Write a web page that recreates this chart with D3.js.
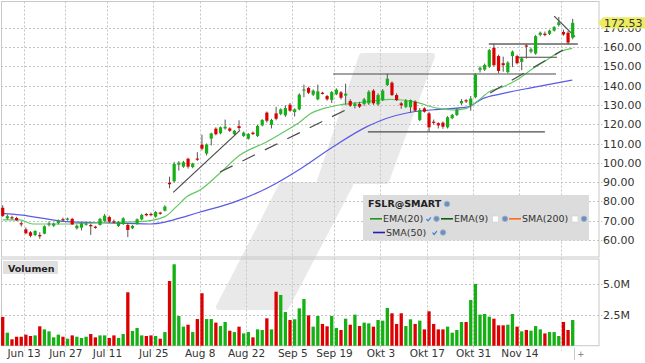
<!DOCTYPE html>
<html>
<head>
<meta charset="utf-8">
<script src="https://cdn.jsdelivr.net/npm/d3@7"></script>
<style>
  body { margin: 0; background: #fff; }
  svg { display: block; font-family: "DejaVu Sans", sans-serif; }
</style>
</head>
<body>
<div id="chart"></div>
<script>
// FSLR daily candles, Jun 6 .. Nov 30 (trading days, index 0..123)
var open  = [76.7,71.2,71.8,71.4,68.7,65.5,64.0,62.6,62.6,63.3,68.2,67.4,68.8,70.8,70.5,70.9,66.1,66.4,67.9,67.8,
             66.9,67.8,69.8,71.9,69.7,67.3,68.3,67.8,66.1,68.3,70.7,73.5,73.5,72.1,74.2,75.2,89.7,90.4,99.0,98.0,
             102.1,97.8,102.2,109.4,104.8,112.5,117.7,115.3,117.8,117.8,114.9,119.0,113.9,112.5,115.6,113.9,119.4,126.0,119.7,125.6,
             125.3,124.6,130.1,126.3,127.7,137.4,138.8,135.3,132.9,136.3,134.6,132.6,135.5,136.5,134.8,132.0,129.4,130.5,130.5,130.8,
             137.4,130.3,132.5,140.3,141.5,135.1,130.8,129.0,128.8,131.6,122.2,128.2,125.6,121.3,120.5,120.8,118.4,123.1,124.8,130.8,
             132.4,130.0,134.0,148.2,148.3,149.8,159.6,155.3,151.6,147.0,155.3,155.3,152.3,160.8,157.6,156.6,166.3,166.9,166.8,168.5,
             171.4,167.8,167.4,164.8];
var high  = [78.0,73.2,72.6,72.0,69.6,66.5,64.6,65.0,64.0,67.6,69.6,69.0,70.6,71.6,71.6,71.5,68.0,69.0,69.0,68.5,
             67.4,71.5,73.5,72.6,70.6,69.8,71.8,68.6,67.8,71.2,73.6,74.0,74.2,75.0,74.6,78.0,92.8,100.5,100.8,101.0,
             102.6,100.0,105.5,114.6,110.0,115.6,118.4,118.8,122.4,118.4,117.0,122.0,116.2,115.4,116.2,119.6,122.6,126.6,122.8,129.0,
             128.2,129.8,131.0,128.2,136.0,140.5,139.4,138.0,140.5,136.8,135.2,137.2,138.6,137.2,141.0,133.0,131.4,131.6,133.6,137.6,
             138.2,136.0,138.2,146.2,142.2,136.0,131.6,133.0,132.8,132.4,128.4,128.8,126.4,122.4,121.0,121.4,124.2,125.4,128.0,133.0,
             133.0,134.6,146.4,150.0,151.4,159.0,161.8,156.0,155.0,152.6,158.2,156.0,154.8,161.6,159.6,166.2,168.0,168.0,169.0,170.8,
             175.6,169.0,168.4,174.6];
var low   = [72.0,70.6,70.6,69.8,67.0,63.0,61.4,62.0,60.6,63.0,67.0,66.8,68.0,69.4,70.0,67.8,65.4,65.0,67.4,62.6,
             65.8,67.5,69.4,68.8,68.6,66.8,67.8,61.5,65.6,67.9,70.2,72.3,72.3,71.6,73.1,74.8,86.8,89.8,96.0,97.4,
             97.0,97.2,101.0,106.4,103.8,109.0,114.2,114.8,117.2,116.0,114.4,116.8,113.4,112.0,114.4,113.4,118.9,120.8,117.8,122.0,
             124.6,123.8,126.4,124.0,127.2,134.0,135.6,134.6,132.4,135.4,132.2,131.0,135.0,132.8,130.2,129.0,128.2,128.4,129.6,130.0,
             130.0,129.6,132.0,139.8,134.6,132.0,128.0,128.4,126.0,126.4,121.6,126.0,116.1,119.8,117.8,117.6,117.8,122.6,124.2,130.0,
             131.0,127.0,133.4,146.8,147.6,149.2,149.8,146.4,147.2,146.4,149.6,151.0,148.0,154.0,156.8,156.0,165.6,165.6,166.2,168.0,
             170.6,165.8,161.2,164.0];
var close = [72.5,72.3,71.4,70.2,68.1,63.5,62.2,64.7,61.9,67.1,68.6,68.5,70.2,70.4,71.1,68.1,67.4,68.5,68.5,67.1,
             66.3,70.9,72.6,69.5,69.0,69.3,71.2,65.2,67.3,70.7,73.0,72.8,72.9,74.5,73.6,77.3,88.9,99.4,100.1,100.3,
             98.0,99.6,101.6,107.3,109.5,115.2,114.8,118.4,118.7,116.6,116.6,118.0,115.6,114.9,114.9,119.1,122.2,121.8,122.2,122.8,
             127.7,128.4,127.0,127.7,135.3,138.0,136.3,137.4,137.0,136.0,132.9,136.6,137.9,133.7,135.8,129.6,130.5,129.1,132.9,136.8,
             130.8,135.1,137.4,143.6,135.1,132.5,129.8,132.2,132.5,127.0,127.4,126.5,118.4,120.8,119.4,118.7,123.6,124.8,127.4,132.0,
             131.9,133.3,145.7,149.2,150.7,158.4,150.6,147.6,150.6,151.9,157.6,151.6,154.1,160.3,158.8,165.6,167.4,166.2,168.5,170.3,
             172.8,166.5,162.3,172.53];
// volume in millions
var volume = [2.34,1.06,0.52,0.73,0.73,0.90,0.79,0.84,1.58,1.33,1.17,0.68,0.90,0.73,0.57,0.84,0.73,0.63,0.73,0.95,
              0.68,0.84,0.84,0.63,0.84,0.63,0.95,4.35,1.20,1.44,0.84,0.79,0.84,0.79,0.57,1.11,5.27,6.63,2.42,1.55,
              1.71,1.11,2.17,4.27,2.17,2.17,1.88,1.60,1.93,1.22,1.11,1.55,1.00,1.11,0.68,1.33,1.28,2.23,1.33,4.40,
              4.13,2.74,2.09,2.15,3.04,3.80,2.47,1.55,2.42,1.77,1.58,2.42,1.44,1.28,2.20,1.71,2.53,1.60,1.88,1.82,
              1.55,2.09,2.04,3.07,2.64,1.77,2.64,1.60,2.15,1.77,2.04,1.33,2.80,1.77,1.33,1.33,1.55,1.06,1.28,1.93,
              1.93,3.72,5.03,2.53,2.58,2.36,2.20,1.66,1.66,1.71,2.58,1.55,1.17,1.28,1.22,1.60,1.33,1.00,1.11,1.11,
              0.79,1.93,1.28,2.09];

// moving averages: [day index, value]
var ema20 = [[0,70.4],[3.7,70.4],[6.5,68.3],[13.9,68.3],[21,69.0],[29.6,69.5],[35,72.1],[37.5,77.3],[39.7,82.4],
             [42.6,85.9],[46.9,94.7],[51.2,104.0],[57,110.9],[61,116.5],[64.2,121.3],[66.3,125.3],[69.5,128.3],
             [72.8,130.0],[77,131.2],[83.6,132.9],[89,131.6],[93.7,128.3],[97.2,127.4],[100.1,128.2],[102.3,131.7],
             [105,136.8],[108,139.4],[110.9,142.9],[114.5,149],[117.4,153.3],[120.3,157.6],[122.9,159.3]];
var sma50 = [[0,73.8],[3.7,73.0],[8.8,71.2],[13.8,69.5],[21,69.0],[31.8,68.3],[35.4,69.5],[39.7,72.4],[42.6,74.5],
             [49.8,79.5],[57,86.8],[64.2,96.8],[71.3,108.3],[78.5,118.6],[82.9,123.1],[87.2,125.8],[92.9,127.5],
             [100.1,128.8],[103.7,133.4],[107.3,135.6],[114.5,139.1],[122.9,142.9]];

// drawn trend lines: [i1, v1, i2, v2, style]
var trendLines = [
  [36.8, 84.7, 51.2, 116.8, "solid"],
  [46.9, 95.2, 76.2, 130.0, "dash"],
  [71.3, 146.0, 119.4, 146.0, "solid"],
  [78.8, 116.0, 117.0, 116.0, "solid"],
  [104.9, 161.6, 124.1, 161.6, "thick"],
  [110.8, 154.7, 119.6, 154.7, "solid"],
  [105.2, 136.2, 120.9, 158.4, "dash"],
  [119.0, 176.0, 123.5, 165.4, "solid"]
];

var priceTicks = [60,70,80,90,100,110,120,130,140,150,160,170];
var volTicks = [2.5, 5.0];
var tickIdx = [5,14,23,33,43,53,63,72,82,92,102,112,121];
var tickLabels = ["Jun 13","Jun 27","Jul 11","Jul 25","Aug 8","Aug 22","Sep 5","Sep 19","Okt 3","Okt 17","Okt 31","Nov 14",""];
var lastPrice = 172.53;

var w = 645, h = 363;
var plotL = 1, plotR = 598.5, mainT = 1.5, mainB = 257, volT = 259, volB = 345.7;
var up = "#14b014", down = "#dd0000";

var x = d3.scaleLinear().domain([0, 123]).range([2.7, 572.7]);
var y = d3.scaleLinear().domain([60, 170]).range([240, 27.7]);
var yv = d3.scaleLinear().domain([0, 5]).range([volB, 284.3]);

var svg = d3.select("#chart").append("svg").attr("width", w).attr("height", h);
svg.append("rect").attr("width", w).attr("height", h).attr("fill", "#fff");

// watermark
var wm = [
  [[362,56],[432,56],[386,181],[320,181]],
  [[282,185],[350,185],[286,307],[219,307]]
];
svg.selectAll(".wm").data(wm).enter().append("polygon")
   .attr("points", d => d.map(p => p.join(",")).join(" "))
   .attr("fill", "#e9e9e9").attr("stroke", "#e9e9e9")
   .attr("stroke-width", 6).attr("stroke-linejoin", "round");

// grid
var grid = svg.append("g").attr("stroke", "#c4c4c4").attr("stroke-dasharray", "2,2").attr("stroke-width", 1);
grid.selectAll(".hy").data(priceTicks).enter().append("line")
    .attr("x1", plotL).attr("x2", plotR + 4)
    .attr("y1", d => Math.round(y(d)) + 0.5).attr("y2", d => Math.round(y(d)) + 0.5);
grid.selectAll(".hv").data(volTicks).enter().append("line")
    .attr("x1", plotL).attr("x2", plotR + 4)
    .attr("y1", d => Math.round(yv(d)) + 0.5).attr("y2", d => Math.round(yv(d)) + 0.5);
grid.selectAll(".vx").data(tickIdx).enter().append("line")
    .attr("x1", d => Math.round(x(d - 0.5)) + 0.5).attr("x2", d => Math.round(x(d - 0.5)) + 0.5)
    .attr("y1", mainT).attr("y2", volB + 5);

// frames
var frame = svg.append("g").attr("fill", "none").attr("stroke", "#c8c8c8");
frame.append("rect").attr("x", plotL + 0.5).attr("y", mainT).attr("width", plotR - plotL).attr("height", mainB - mainT);
frame.append("rect").attr("x", plotL + 0.5).attr("y", volT).attr("width", plotR - plotL).attr("height", volB - volT);

// moving averages
var maLine = d3.line().x(d => x(d[0])).y(d => y(d[1])).curve(d3.curveMonotoneX);
svg.append("path").attr("d", maLine(sma50)).attr("fill", "none")
   .attr("stroke", "#5a5ae6").attr("stroke-width", 1.2);
svg.append("path").attr("d", maLine(ema20)).attr("fill", "none")
   .attr("stroke", "#62c862").attr("stroke-width", 1.2);

// trend lines
svg.selectAll(".tl").data(trendLines).enter().append("line")
   .attr("x1", d => x(d[0])).attr("y1", d => y(d[1]))
   .attr("x2", d => x(d[2])).attr("y2", d => y(d[3]))
   .attr("stroke", d => d[4] == "thick" ? "#8a8a8a" : "#4a4a4a")
   .attr("stroke-width", d => d[4] == "thick" ? 2 : 1.2)
   .attr("stroke-dasharray", d => d[4] == "dash" ? "14,11" : null);

// candles
var idx = d3.range(close.length);
var candles = svg.append("g");
candles.selectAll(".wick").data(idx).enter().append("line")
   .attr("x1", i => x(i)).attr("x2", i => x(i))
   .attr("y1", i => y(high[i])).attr("y2", i => y(low[i]))
   .attr("stroke", "#555").attr("stroke-width", 1);
candles.selectAll(".body").data(idx).enter().append("rect")
   .attr("x", i => x(i) - 1.6).attr("width", 3.2)
   .attr("y", i => y(Math.max(open[i], close[i])))
   .attr("height", i => Math.max(1.2, Math.abs(y(open[i]) - y(close[i]))))
   .attr("fill", i => close[i] >= open[i] ? up : down);

// volume
svg.append("g").selectAll("rect").data(idx).enter().append("rect")
   .attr("x", i => x(i) - 1.65).attr("width", 3.3)
   .attr("y", i => yv(volume[i])).attr("height", i => volB - yv(volume[i]))
   .attr("fill", i => close[i] >= open[i] ? up : down);

// price axis
var yAxis = d3.axisRight(y).tickValues(priceTicks).tickFormat(d3.format(".2f")).tickSize(0).tickPadding(0);
var ga = svg.append("g").attr("transform", "translate(" + (plotR + 4.5) + ",0)").call(yAxis);
ga.select(".domain").remove();
ga.selectAll("text").attr("font-family", "DejaVu Sans").attr("font-size", 11).attr("fill", "#333");

var vAxis = d3.axisRight(yv).tickValues(volTicks).tickFormat(d => d.toFixed(1) + "M").tickSize(0).tickPadding(0);
var gv = svg.append("g").attr("transform", "translate(" + (plotR + 4.5) + ",0)").call(vAxis);
gv.select(".domain").remove();
gv.selectAll("text").attr("font-family", "DejaVu Sans").attr("font-size", 11).attr("fill", "#333");

// date axis
var xAxis = d3.axisBottom(x).tickValues(tickIdx.map(d => d - 0.5))
              .tickFormat((d, i) => tickLabels[i]).tickSize(0).tickPadding(4);
var gx = svg.append("g").attr("transform", "translate(0," + volB + ")").call(xAxis);
gx.select(".domain").remove();
gx.selectAll("text").attr("font-family", "DejaVu Sans").attr("font-size", 10.5).attr("fill", "#333");

svg.append("line").attr("x1", 574.5).attr("x2", 574.5).attr("y1", volB + 2).attr("y2", 360)
   .attr("stroke", "#ccc");
svg.append("text").attr("x", 577).attr("y", 357).attr("font-size", 9).attr("fill", "#777").text("+");

// last price tag
var py = y(lastPrice);
svg.append("polygon")
   .attr("points", [[598, py], [603, py - 5.6], [645, py - 5.6], [645, py + 5.6], [603, py + 5.6]].map(p => p.join(",")).join(" "))
   .attr("fill", "#ecec62");
svg.append("text").attr("x", 604).attr("y", py).attr("dy", "0.35em")
   .attr("font-size", 11).attr("fill", "#333").text(d3.format(".2f")(lastPrice));

// volume tag
svg.append("rect").attr("x", 3).attr("y", 261).attr("width", 55).attr("height", 13).attr("fill", "#e0e0e0");
svg.append("text").attr("x", 8).attr("y", 271.5).attr("font-size", 9.5).attr("font-weight", "bold")
   .attr("fill", "#222").text("Volumen");

// legend
var lg = svg.append("g");
lg.append("rect").attr("x", 363).attr("y", 195).attr("width", 226).attr("height", 45.5).attr("fill", "#dcdcdc");
lg.append("text").attr("x", 368).attr("y", 207.3).attr("font-size", 9.5).attr("font-weight", "bold")
  .attr("fill", "#222").text("FSLR@SMART");

function globe(cx, cy) {
  lg.append("circle").attr("cx", cx).attr("cy", cy).attr("r", 2.8).attr("fill", "#6f8fb8").attr("stroke", "#9fb5d4").attr("stroke-width", 0.8);
}
function check(cx, cy) {
  lg.append("path").attr("d", "M" + (cx - 2) + "," + cy + " l1.6,1.8 l2.8,-3.4")
    .attr("fill", "none").attr("stroke", "#3c7fd8").attr("stroke-width", 1.2);
}
function box(cx, cy) {
  lg.append("rect").attr("x", cx - 3).attr("y", cy - 3).attr("width", 6).attr("height", 6)
    .attr("fill", "#fff").attr("stroke", "#d0d0d0").attr("stroke-width", 0.6);
}
function item(x0, yb, color, label) {
  lg.append("line").attr("x1", x0).attr("x2", x0 + 12).attr("y1", yb - 3.5).attr("y2", yb - 3.5)
    .attr("stroke", color).attr("stroke-width", 1.6);
  lg.append("text").attr("x", x0 + 13).attr("y", yb).attr("font-size", 9.5).attr("fill", "#333").text(label);
}
globe(447, 204);
item(370, 222.3, "#1a9a1a", "EMA(20)");
check(428.5, 219); globe(436.5, 218.8);
item(441, 222.3, "#0b5e0b", "EMA(9)");
box(495.5, 219); globe(505, 218.8);
item(509, 222.3, "#ff6a1a", "SMA(200)");
box(575, 219); globe(584, 218.8);
item(373, 236, "#1f1fb0", "SMA(50)");
check(434.5, 232.7); globe(443, 232.5);
</script>
</body>
</html>
